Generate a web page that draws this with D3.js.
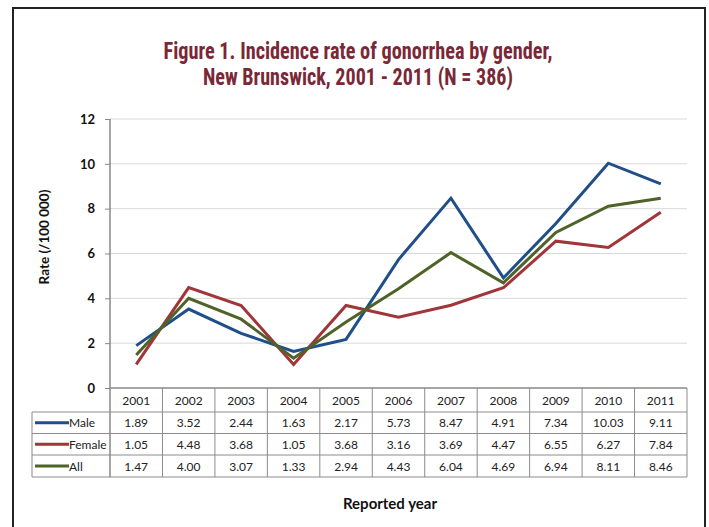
<!DOCTYPE html>
<html><head><meta charset="utf-8">
<script src="https://cdn.jsdelivr.net/npm/d3@7"></script>
<style>body{margin:0;background:#fff}</style>
</head><body>
<svg id="c" width="709" height="527"></svg>
<script>
const years = ["2001","2002","2003","2004","2005","2006","2007","2008","2009","2010","2011"];
const male   = [1.89,3.52,2.44,1.63,2.17,5.73,8.47,4.91,7.34,10.03,9.11];
const female = [1.05,4.48,3.68,1.05,3.68,3.16,3.69,4.47,6.55,6.27,7.84];
const all    = [1.47,4.00,3.07,1.33,2.94,4.43,6.04,4.69,6.94,8.11,8.46];
const seriesNames = ["Male","Female","All"];
const yTicks = [0,2,4,6,8,10,12];
const titleLines = ["Figure 1. Incidence rate of gonorrhea by gender,","New Brunswick, 2001 - 2011 (N = 386)"];

(function(){
const colors = {"Male":"#1f4e89","Female":"#a0353a","All":"#4f6228"};
const series = [{name:"Male",values:male},{name:"Female",values:female},{name:"All",values:all}];

const svg = d3.select("#c");
const font = "Lato, 'Noto Sans', 'DejaVu Sans', sans-serif";

svg.append("rect").attr("x",13).attr("y",8).attr("width",692).attr("height",540)
  .attr("fill","none").attr("stroke","#222").attr("stroke-width",2);

const tfont = "'Liberation Sans Narrow','Roboto Condensed','Liberation Sans',sans-serif";
svg.append("text").attr("x",358).attr("y",59).attr("text-anchor","middle")
  .attr("font-family",tfont).attr("font-weight","bold").attr("font-size",23)
  .attr("fill","#7a2836").attr("textLength",389).attr("lengthAdjust","spacingAndGlyphs")
  .text(titleLines[0]);
svg.append("text").attr("x",358).attr("y",85).attr("text-anchor","middle")
  .attr("font-family",tfont).attr("font-weight","bold").attr("font-size",23)
  .attr("fill","#7a2836").attr("textLength",310).attr("lengthAdjust","spacingAndGlyphs")
  .text(titleLines[1]);

const pl = 110, pr = 687, pt = 119, pb = 388;
const x = d3.scaleBand().domain(years).range([pl,pr]);
const y = d3.scaleLinear().domain([0,12]).range([pb,pt]);

svg.append("g").selectAll("line").data(yTicks.filter(d=>d>0)).join("line")
  .attr("x1",pl).attr("x2",pr).attr("y1",d=>y(d)).attr("y2",d=>y(d))
  .attr("stroke","#d9d9d9").attr("stroke-width",1);

const yAxis = d3.axisLeft(y).tickValues(yTicks).tickSize(5).tickPadding(10);
const ga = svg.append("g").attr("transform",`translate(${pl},0)`).call(yAxis);
ga.select(".domain").remove();
ga.selectAll(".tick line").attr("stroke","#888");
ga.selectAll(".tick text").attr("font-family",font).attr("font-weight","bold")
  .attr("font-size",13).attr("fill","#111");

svg.append("text").attr("transform","translate(49,237) rotate(-90)").attr("text-anchor","middle")
  .attr("font-family",font).attr("font-weight","bold").attr("font-size",13.5).attr("fill","#111")
  .text("Rate (/100 000)");

const line = d3.line().x((d,i)=>x(years[i])+x.bandwidth()/2).y(d=>y(d));
svg.append("g").selectAll("path").data(series).join("path")
  .attr("d",d=>line(d.values)).attr("fill","none").attr("stroke",d=>colors[d.name])
  .attr("stroke-width",3).attr("stroke-linejoin","miter");

const rowTops = [388,412,433.5,455,477];
const tableLeft = 32;
const gt = svg.append("g");
const gray = "#8c8c8c";
gt.append("line").attr("x1",pl).attr("x2",pr).attr("y1",rowTops[0]).attr("y2",rowTops[0]).attr("stroke","#888").attr("stroke-width",1.5);
rowTops.slice(1).forEach(r=>{
  gt.append("line").attr("x1",tableLeft).attr("x2",pr).attr("y1",r).attr("y2",r).attr("stroke",gray);
});
gt.append("line").attr("x1",tableLeft).attr("x2",tableLeft).attr("y1",rowTops[1]).attr("y2",rowTops[4]).attr("stroke",gray);
years.forEach((yr,i)=>{
  if(i>0) gt.append("line").attr("x1",x(yr)).attr("x2",x(yr)).attr("y1",rowTops[0]).attr("y2",rowTops[4]).attr("stroke",gray);
});
gt.append("line").attr("x1",pr).attr("x2",pr).attr("y1",rowTops[0]).attr("y2",rowTops[4]).attr("stroke",gray);
gt.append("line").attr("x1",pl).attr("x2",pl).attr("y1",pt).attr("y2",rowTops[4]).attr("stroke","#888").attr("stroke-width",1.5);

gt.selectAll("text.h").data(years).join("text").attr("class","h")
  .attr("x",d=>x(d)+x.bandwidth()/2).attr("y",(rowTops[0]+rowTops[1])/2+4.5)
  .attr("text-anchor","middle").attr("font-family",font).attr("font-size",12).attr("fill","#222").text(d=>d);

series.forEach((s,si)=>{
  const cy = (rowTops[si+1]+rowTops[si+2])/2;
  gt.append("line").attr("x1",35).attr("x2",69).attr("y1",cy).attr("y2",cy)
    .attr("stroke",colors[s.name]).attr("stroke-width",3);
  gt.append("text").attr("x",69).attr("y",cy+4.5).attr("font-family",font).attr("font-size",12)
    .attr("fill","#222").text(s.name);
  gt.selectAll("text.v"+si).data(s.values).join("text").attr("class","v"+si)
    .attr("x",(d,i)=>x(years[i])+x.bandwidth()/2).attr("y",cy+4.5)
    .attr("text-anchor","middle").attr("font-family",font).attr("font-size",12).attr("fill","#222")
    .text(d=>d.toFixed(2));
});

svg.append("text").attr("x",390).attr("y",509).attr("text-anchor","middle")
  .attr("font-family",font).attr("font-weight","bold").attr("font-size",15).attr("fill","#111")
  .text("Reported year");
})();
</script>
</body></html>
